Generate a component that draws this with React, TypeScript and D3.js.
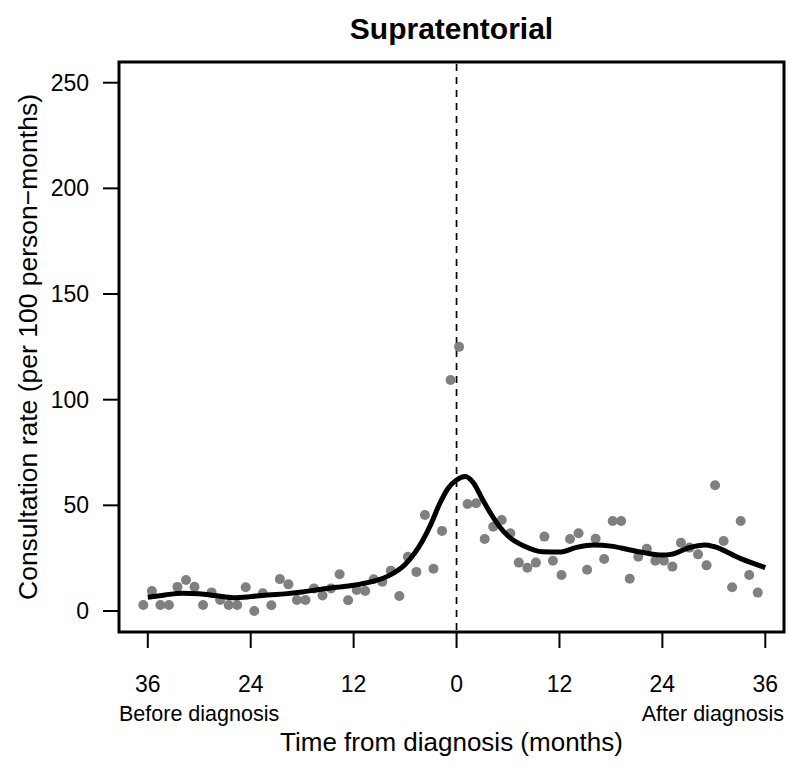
import React from "react";
import * as d3 from "d3";

const months = [
  -36, -35, -34, -33, -32, -31, -30, -29, -28, -27, -26, -25, -24, -23, -22, -21, -20, -19,
  -18, -17, -16, -15, -14, -13, -12, -11, -10, -9, -8, -7, -6, -5, -4, -3, -2, -1,
  0, 1, 2, 3, 4, 5, 6, 7, 8, 9, 10, 11, 12, 13, 14, 15, 16, 17, 18,
  19, 20, 21, 22, 23, 24, 25, 26, 27, 28, 29, 30, 31, 32, 33, 34, 35, 36,
];

const rates = [
  2.8, 9.5, 2.8, 2.8, 11.4, 14.7, 11.5, 2.8, 8.8, 5.2, 2.8, 2.8, 11.2, 0, 8.4, 2.7, 15.1, 12.6,
  5.2, 5.2, 10.7, 7.3, 10.7, 17.4, 5.1, 9.9, 9.5, 15, 13.9, 19.1, 7.1, 25.7, 18.5, 45.4, 20, 37.9,
  109.3, 125, 50.6, 51, 34.1, 39.9, 43.1, 36.8, 22.9, 20.5, 22.9, 35.2, 23.8, 17, 34.1, 36.8, 19.5, 34.2, 24.6,
  42.6, 42.6, 15.3, 25.7, 29.5, 23.8, 23.8, 21, 32.3, 30, 26.8, 21.6, 59.5, 33.1, 11.2, 42.6, 17, 8.7,
];

const smoothX = [
  -36, -34, -32, -30, -28, -26, -24, -22, -20, -18, -16, -14, -12, -10, -8, -6, -4, -3, -2, -1,
  0, 1, 2, 3, 4, 5, 6, 8, 10, 12, 14, 16, 18, 20, 22, 24, 25, 27, 29, 30, 33, 36,
];
const smoothY = [
  6.5, 7.6, 8.4, 8.2, 7.2, 6.3, 6.8, 7.6, 8.1, 9.0, 10.2, 11.2, 12.2, 13.8, 16.5, 22, 33, 41, 50.5, 58,
  62, 63.6, 60.5, 53, 46, 40, 35.5, 30.5, 28, 27.9, 30.1, 31.2, 30.7, 29.1, 27.5, 26.5, 26.8, 29.8, 31.2, 30.5, 25, 20.5,
];

const xTicks = [-36, -24, -12, 0, 12, 24, 36];
const xTickLabels = ["36", "24", "12", "0", "12", "24", "36"];
const yTicks = [0, 50, 100, 150, 200, 250];

const title = "Supratentorial";
const xLabel = "Time from diagnosis (months)";
const yLabel = "Consultation rate (per 100 person\u2212months)";
const beforeLabel = "Before diagnosis";
const afterLabel = "After diagnosis";

const FONT = "'Liberation Sans', Arial, Helvetica, sans-serif";

export default function App() {
  const W = 800;
  const H = 772;
  const box = { left: 119, right: 784, top: 62, bottom: 632 };

  const x = d3.scaleLinear().domain([-36, 36]).range([147.8, 765.3]);
  const xPt = d3.scaleLinear().domain([-36, 36]).range([x(-36.52), x(35.12)]);
  const y = d3.scaleLinear().domain([0, 250]).range([611, 82.7]);

  const line = d3
    .line<number>()
    .x((_, i) => x(smoothX[i]))
    .y((d) => y(d))
    .curve(d3.curveMonotoneX);

  return (
    <svg
      width={W}
      height={H}
      style={{ position: "absolute", left: 0, top: 0, background: "#fff" }}
      fontFamily={FONT}
    >
      <rect x={0} y={0} width={W} height={H} fill="#fff" />
      <text x={(box.left + box.right) / 2} y={39} textAnchor="middle" fontSize={30} fontWeight="bold">
        {title}
      </text>

      {/* dashed reference line */}
      <line
        x1={x(0)}
        x2={x(0)}
        y1={box.top + 2}
        y2={box.bottom}
        stroke="#000"
        strokeWidth={1.7}
        strokeDasharray="7,6"
      />

      {/* points */}
      {months.map((m, i) => (
        <circle key={m} cx={xPt(m)} cy={y(rates[i])} r={5} fill="#808080" />
      ))}

      {/* smooth curve */}
      <path d={line(smoothY) || ""} fill="none" stroke="#000" strokeWidth={5} strokeLinejoin="round" />

      {/* box */}
      <rect
        x={box.left}
        y={box.top}
        width={box.right - box.left}
        height={box.bottom - box.top}
        fill="none"
        stroke="#000"
        strokeWidth={3}
      />

      {/* x axis */}
      {xTicks.map((t, i) => (
        <g key={"xt" + i}>
          <line x1={x(t)} x2={x(t)} y1={box.bottom} y2={box.bottom + 16} stroke="#000" strokeWidth={2} />
          <text x={x(t)} y={692} textAnchor="middle" fontSize={23}>
            {xTickLabels[i]}
          </text>
        </g>
      ))}
      <text x={box.left} y={721} textAnchor="start" fontSize={21.5}>
        {beforeLabel}
      </text>
      <text x={box.right} y={721} textAnchor="end" fontSize={21.5}>
        {afterLabel}
      </text>
      <text x={(box.left + box.right) / 2} y={751} textAnchor="middle" fontSize={26}>
        {xLabel}
      </text>

      {/* y axis */}
      {yTicks.map((t) => (
        <g key={"yt" + t}>
          <line x1={box.left - 16} x2={box.left} y1={y(t)} y2={y(t)} stroke="#000" strokeWidth={2} />
          <text x={89} y={y(t) + 8} textAnchor="end" fontSize={23}>
            {t}
          </text>
        </g>
      ))}
      <text
        transform={`translate(37, ${(box.top + box.bottom) / 2}) rotate(-90)`}
        textAnchor="middle"
        fontSize={26.5}
      >
        {yLabel}
      </text>
    </svg>
  );
}
